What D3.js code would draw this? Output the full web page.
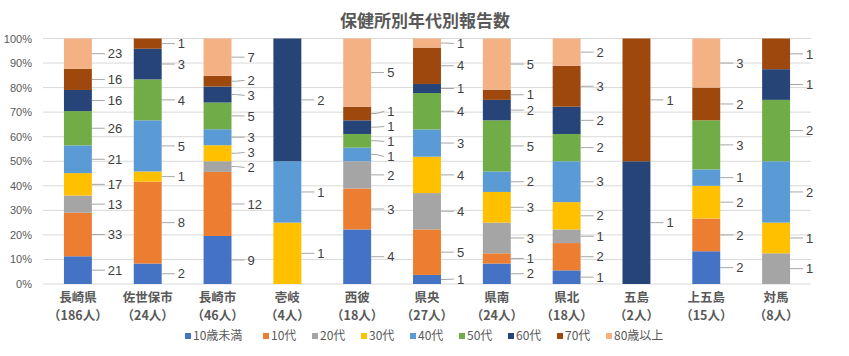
<!DOCTYPE html>
<html><head><meta charset="utf-8">
<script src="https://cdn.jsdelivr.net/npm/d3@7"></script>
<style>
body{margin:0;background:#fff;}
svg{font-family:"Noto Sans CJK JP","Noto Sans",sans-serif;}
.num{font-family:"Liberation Sans",Arial,sans-serif;}
</style></head>
<body><svg id="c" width="849" height="356"></svg>
<script>
const categories = ["長崎県","佐世保市","長崎市","壱岐","西彼","県央","県南","県北","五島","上五島","対馬"];
const totals = ["（186人）","（24人）","（46人）","（4人）","（18人）","（27人）","（24人）","（18人）","（2人）","（15人）","（8人）"];
const seriesNames = ["10歳未満","10代","20代","30代","40代","50代","60代","70代","80歳以上"];
const colors = ["#4472C4","#ED7D31","#A5A5A5","#FFC000","#5B9BD5","#70AD47","#264478","#9E480E","#F4B183"];
const under10 = [21,2,9,0,4,1,2,1,0,2,0];
const teens   = [33,8,12,0,3,5,1,2,0,2,0];
const twenties= [13,0,2,0,2,4,3,1,0,0,1];
const thirties= [17,1,3,1,0,4,3,2,0,2,1];
const forties = [21,5,3,1,1,3,2,3,0,1,2];
const fifties = [26,4,5,0,1,4,5,2,0,3,2];
const sixties = [16,3,3,2,1,1,2,2,1,0,1];
const seventies=[16,1,2,0,1,4,1,3,1,2,1];
const over80  = [23,0,7,0,5,1,5,2,0,3,0];
const yTicks = [0,0.1,0.2,0.3,0.4,0.5,0.6,0.7,0.8,0.9,1];
const seriesValues = [under10,teens,twenties,thirties,forties,fifties,sixties,seventies,over80];

const svg = d3.select("#c");
const m = {l:43, r:811, t:38.5, b:284};
const x = d3.scaleBand().domain(categories).range([m.l,m.r]).paddingInner(0.6).paddingOuter(0.3);
const y = d3.scaleLinear().domain([0,1]).range([m.b,m.t]);

// gridlines
svg.append("g").selectAll("line").data(yTicks).join("line")
  .attr("x1",m.l).attr("x2",m.r).attr("y1",d=>y(d)).attr("y2",d=>y(d))
  .attr("stroke","#D9D9D9").attr("stroke-width",1);

// y axis labels
const yAxis = d3.axisLeft(y).tickValues(yTicks).tickFormat(d3.format(".0%")).tickSize(0).tickPadding(0);
const ya = svg.append("g").attr("transform",`translate(32,0)`).call(yAxis);
ya.select(".domain").remove();
ya.selectAll("text").attr("class","num").attr("font-size",11).attr("fill","#595959");

// stack data
const rows = categories.map((c,i)=>{
  const o={cat:c}; const tot=d3.sum(seriesValues,s=>s[i]);
  seriesNames.forEach((s,j)=>o[s]=seriesValues[j][i]/tot);
  o.counts = seriesValues.map(s=>s[i]);
  return o;
});
const stack = d3.stack().keys(seriesNames)(rows);

const g = svg.append("g");
stack.forEach((layer,j)=>{
  g.append("g").attr("fill",colors[j]).selectAll("rect").data(layer).join("rect")
    .attr("x",d=>x(d.data.cat)).attr("width",x.bandwidth())
    .attr("y",d=>y(d[1])).attr("height",d=>y(d[0])-y(d[1]));
});

// labels (collect per category, then spread to avoid overlap)
const lg = svg.append("g");
const gap = 15;
categories.forEach((c,i)=>{
  const labs = [];
  stack.forEach((layer,j)=>{
    const d = layer[i];
    const v = d.data.counts[j];
    if(!v) return;
    const ym = y((d[0]+d[1])/2);
    labs.push({v, ym, ly: ym});
  });
  labs.sort((a,b)=>a.ym-b.ym);
  for(let it=0; it<40; it++){
    for(let k=1;k<labs.length;k++){
      const diff = labs[k].ly - labs[k-1].ly;
      if(diff < gap){
        const sh = (gap-diff)/2;
        labs[k].ly += sh; labs[k-1].ly -= sh;
      }
    }
    labs.forEach(l=>{ l.ly = Math.max(m.t+5, Math.min(m.b-5, l.ly)); });
  }
  const xr = x(c)+x.bandwidth();
  labs.forEach(l=>{
    lg.append("path").attr("d",`M${xr},${l.ym}L${xr+5},${l.ym}L${xr+13},${l.ly}`)
      .attr("fill","none").attr("stroke","#A6A6A6").attr("stroke-width",1);
    lg.append("text").attr("class","num").attr("x",xr+16).attr("y",l.ly).attr("dy","0.36em")
      .attr("font-size",13).attr("fill","#404040").text(l.v);
  });
});

// x labels
const xl = svg.append("g");
categories.forEach((c,i)=>{
  const cx = x(c)+x.bandwidth()/2;
  xl.append("text").attr("x",cx).attr("y",302).attr("text-anchor","middle")
    .attr("font-size",12.5).attr("font-weight","bold").attr("fill","#595959").text(c);
  xl.append("text").attr("x",cx).attr("y",320).attr("text-anchor","middle")
    .attr("font-size",12.5).attr("font-weight","bold").attr("fill","#595959").text(totals[i]);
});

// title
svg.append("text").attr("x",425).attr("y",27).attr("text-anchor","middle")
  .attr("font-size",17).attr("font-weight","bold").attr("fill","#595959").text("保健所別年代別報告数");

// legend
const legX = [185,263,312,361,410,459,508,557,606];
const leg = svg.append("g");
seriesNames.forEach((s,j)=>{
  leg.append("rect").attr("x",legX[j]).attr("y",333).attr("width",6).attr("height",6).attr("fill",colors[j]);
  leg.append("text").attr("x",legX[j]+8).attr("y",336).attr("dy","0.36em")
    .attr("font-size",12).attr("fill","#595959").text(s);
});
</script></body></html>
